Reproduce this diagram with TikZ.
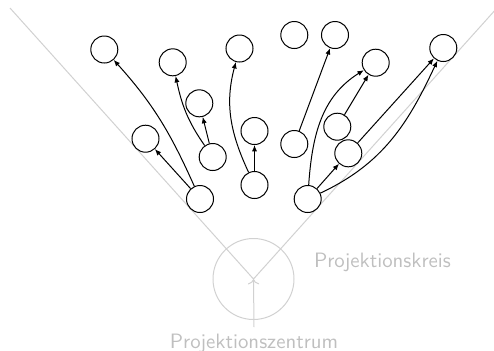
\documentclass[tikz,border=0pt]{standalone}
\usetikzlibrary{arrows.meta}
\begin{document}
\begin{tikzpicture}[x=0.5pt,y=-0.5pt,
  state/.style={circle,draw,line width=0.5pt,minimum size=13.5pt,inner sep=0pt},
  edge/.style={-{Latex[length=3.2pt,width=2.6pt]},line width=0.5pt},
  guide/.style={draw=black!18,line width=0.5pt},
  guidetext/.style={text=black!25,font=\sffamily\fontsize{10.4}{12}\selectfont}]
\useasboundingbox (0,0) rectangle (494,350);

% projection geometry
\coordinate (zc) at (253.5,279);
\coordinate (ltop) at (10,8);
\coordinate (rtop) at (497,8);
\draw[guide] (zc) circle (40.5);
\draw[guide] (ltop) -- (zc) -- (rtop);
\node[guidetext] (kreis) at (382.5,262) {Projektionskreis};
\node[guidetext,anchor=north] (zentrum) at (254,327) {Projektionszentrum};
\draw[guide,->] (zentrum.north) -- (zc);

% states
\node[state] (a) at (104.3,49.5) {};
\node[state] (b) at (172.7,62.3) {};
\node[state] (c) at (239.5,48.5) {};
\node[state] (d) at (294.3,35) {};
\node[state] (e) at (335,35) {};
\node[state] (f) at (375.7,62.7) {};
\node[state] (g) at (443.3,48) {};
\node[state] (h) at (199.3,103.3) {};
\node[state] (i) at (145.5,138.7) {};
\node[state] (j) at (212.7,157) {};
\node[state] (k) at (254.5,131) {};
\node[state] (l) at (294.3,144) {};
\node[state] (m) at (337.3,126.7) {};
\node[state] (n) at (348.3,153.3) {};
\node[state] (o) at (200,199) {};
\node[state] (p) at (254.5,185) {};
\node[state] (q) at (307.7,199) {};

% transitions
\draw[edge] (o) to[out=114,in=-48] (a);
\draw[edge] (o) -- (i);
\draw[edge] (j) -- (h);
\draw[edge] (j) to[out=125,in=-78] (b);
\draw[edge] (p) -- (k);
\draw[edge] (p) to[out=115,in=-105] (c);
\draw[edge] (l) -- (e);
\draw[edge] (m) -- (f);
\draw[edge] (q) to[out=86,in=-148] (f);
\draw[edge] (q) -- (n);
\draw[edge] (n) -- (g);
\draw[edge] (q) to[out=25,in=-115] (g);
\end{tikzpicture}
\end{document}
